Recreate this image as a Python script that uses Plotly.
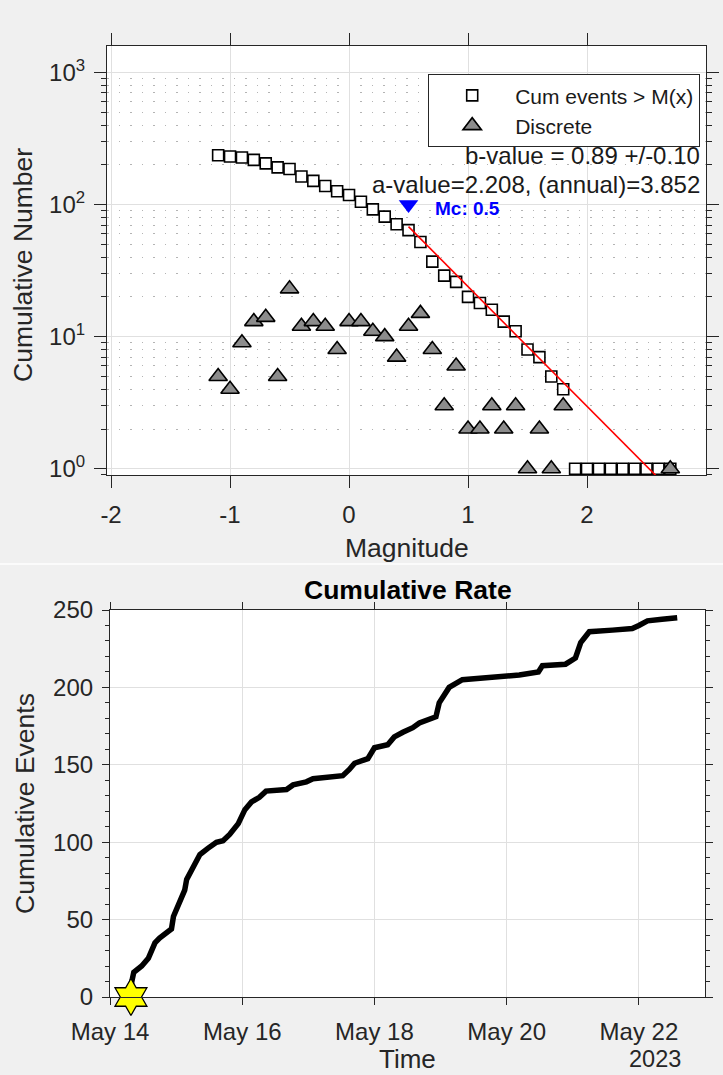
import plotly.graph_objects as go

# ---------------- data: Gutenberg-Richter (top) ----------------
mag_bins = [-1.1, -1.0, -0.9, -0.8, -0.7, -0.6, -0.5, -0.4, -0.3, -0.2, -0.1,
            0.0, 0.1, 0.2, 0.3, 0.4, 0.5, 0.6, 0.7, 0.8, 0.9, 1.0, 1.1, 1.2,
            1.3, 1.4, 1.5, 1.6, 1.7, 1.8, 1.9, 2.0, 2.1, 2.2, 2.3, 2.4, 2.5,
            2.6, 2.7]
cum_counts = [236, 231, 227, 218, 205, 191, 186, 163, 151, 138, 126,
              118, 105, 92, 81, 71, 64, 52, 37, 29, 26, 20, 18, 16,
              13, 11, 8, 7, 5, 4, 1, 1, 1, 1, 1, 1, 1,
              1, 1]
disc_mags = [-1.1, -1.0, -0.9, -0.8, -0.7, -0.6, -0.5, -0.4, -0.3, -0.2, -0.1,
             0.0, 0.1, 0.2, 0.3, 0.4, 0.5, 0.6, 0.7, 0.8, 0.9, 1.0, 1.1, 1.2,
             1.3, 1.4, 1.5, 1.6, 1.7, 1.8, 2.7]
disc_counts = [5, 4, 9, 13, 14, 5, 23, 12, 13, 12, 8,
               13, 13, 11, 10, 7, 12, 15, 8, 3, 6, 2, 2, 3,
               2, 3, 1, 2, 1, 3, 1]
fit_mags = [0.5, 2.7]
fit_counts = [68.0, 0.69]
mc_mag = [0.5]
mc_level = [100]

gr_xticks = [-2, -1, 0, 1, 2]
gr_xticklabels = ["-2", "-1", "0", "1", "2"]
gr_yticks = [1, 10, 100, 1000]
gr_yticklabels = ["10<sup>0</sup>", "10<sup>1</sup>", "10<sup>2</sup>", "10<sup>3</sup>"]
gr_yminor = [0.9, 2, 3, 4, 5, 6, 7, 8, 9, 20, 30, 40, 50, 60, 70, 80, 90,
             200, 300, 400, 500, 600, 700, 800, 900]

# ---------------- data: cumulative rate (bottom) ----------------
event_times = [
    "2023-05-14 07:12", "2023-05-14 07:26", "2023-05-14 07:55", "2023-05-14 08:38",
    "2023-05-14 11:31", "2023-05-14 13:55", "2023-05-14 16:19", "2023-05-14 18:00",
    "2023-05-14 22:19", "2023-05-14 23:02", "2023-05-15 01:26", "2023-05-15 03:07",
    "2023-05-15 03:50", "2023-05-15 05:02", "2023-05-15 06:43", "2023-05-15 08:38",
    "2023-05-15 11:31", "2023-05-15 14:38", "2023-05-15 17:02", "2023-05-15 19:26",
    "2023-05-15 22:34", "2023-05-16 00:58", "2023-05-16 03:22", "2023-05-16 06:14",
    "2023-05-16 08:38", "2023-05-16 16:05", "2023-05-16 18:29", "2023-05-16 23:17",
    "2023-05-17 01:41", "2023-05-17 12:29", "2023-05-17 14:53", "2023-05-17 16:48",
    "2023-05-17 21:36", "2023-05-18 00:00", "2023-05-18 04:48", "2023-05-18 07:12",
    "2023-05-18 10:19", "2023-05-18 13:55", "2023-05-18 16:19", "2023-05-18 21:07",
    "2023-05-18 22:19", "2023-05-18 23:31", "2023-05-19 01:26", "2023-05-19 03:07",
    "2023-05-19 07:55", "2023-05-19 13:55", "2023-05-19 23:46", "2023-05-20 04:34",
    "2023-05-20 11:31", "2023-05-20 12:58", "2023-05-20 21:22", "2023-05-21 00:58",
    "2023-05-21 02:53", "2023-05-21 06:00", "2023-05-21 14:24", "2023-05-21 21:36",
    "2023-05-22 00:00", "2023-05-22 03:07", "2023-05-22 08:24", "2023-05-22 13:55",
]
cum_events = [
    0, 5, 10, 16,
    20, 25, 35, 38,
    44, 52, 63, 69,
    76, 80, 86, 92,
    96, 100, 101, 105,
    112, 121, 126, 129,
    133, 134, 137, 139,
    141, 143, 147, 151,
    154, 161, 163, 168,
    171, 174, 177, 180,
    181, 190, 195, 200,
    205, 206, 207, 208,
    210, 214, 215, 219,
    229, 236, 237, 238,
    240, 243, 244, 245,
]
mainshock_time = ["2023-05-14 07:36"]
mainshock_level = [0]

rate_xticks = ["2023-05-14", "2023-05-16", "2023-05-18", "2023-05-20", "2023-05-22"]
rate_xticklabels = ["May 14", "May 16", "May 18", "May 20", "May 22"]

# ---------------- layout helpers ----------------
W, H = 723, 1075
FONT = "Liberation Sans, Arial, Helvetica, sans-serif"
AX = "#262626"
GRID = "#e0e0e0"


def px(x):
    return x / W


def py(y):
    return 1 - y / H


fig = go.Figure()

fig.add_trace(go.Scatter(
    x=mag_bins, y=cum_counts, mode="markers", name="Cum events > M(x)",
    marker=dict(symbol="square", size=11, color="white",
                line=dict(color="black", width=1.6)),
    xaxis="x", yaxis="y"))
fig.add_trace(go.Scatter(
    x=disc_mags, y=disc_counts, mode="markers", name="Discrete",
    marker=dict(symbol="triangle-up", size=16, color="#8c8c8c",
                line=dict(color="black", width=1.6)),
    xaxis="x", yaxis="y"))
fig.add_trace(go.Scatter(
    x=fit_mags, y=fit_counts, mode="lines", showlegend=False,
    line=dict(color="#ff0000", width=1.6), xaxis="x", yaxis="y"))
fig.add_trace(go.Scatter(
    x=mc_mag, y=mc_level, mode="markers", showlegend=False,
    marker=dict(symbol="triangle-down", size=17, color="#0000ff",
                line=dict(width=0)),
    xaxis="x", yaxis="y"))

fig.add_trace(go.Scatter(
    x=event_times, y=cum_events, mode="lines", showlegend=False,
    line=dict(color="black", width=5.5), xaxis="x2", yaxis="y2"))
fig.add_trace(go.Scatter(
    x=mainshock_time, y=mainshock_level, mode="markers", showlegend=False,
    cliponaxis=False,
    marker=dict(symbol="hexagram", size=28, color="#ffff00",
                line=dict(color="black", width=1.3)),
    xaxis="x2", yaxis="y2"))

axis_common = dict(showline=True, linecolor=AX, linewidth=1.2, ticks="outside",
                   tickcolor=AX, tickwidth=1.2, showgrid=True, gridcolor=GRID,
                   gridwidth=1, zeroline=False, automargin=False,
                   tickfont=dict(family=FONT, size=24, color=AX))

fig.update_layout(
    width=W, height=H, margin=dict(l=0, r=0, t=0, b=0, pad=0, autoexpand=False),
    paper_bgcolor="#f0f0f0", plot_bgcolor="white",
    font=dict(family=FONT, size=24, color=AX),
    showlegend=True,
    legend=dict(x=px(700), xanchor="right", y=py(74), yanchor="top",
                bgcolor="white", bordercolor="#262626", borderwidth=1.2,
                font=dict(family=FONT, size=21, color="#1a1a1a"),
                itemwidth=76, tracegroupgap=0),
    xaxis=dict(axis_common, domain=[px(107), px(706)], range=[-2.034, 3.0],
               tickmode="array", tickvals=gr_xticks, ticktext=gr_xticklabels,
               ticklen=12, mirror="ticks", anchor="y", ticklabelstandoff=6),
    yaxis=dict(axis_common, type="log", domain=[py(475), py(46)],
               range=[-0.047, 3.2], tickmode="array", tickvals=gr_yticks,
               ticktext=gr_yticklabels, ticklen=12, mirror="allticks",
               anchor="x", ticklabelstandoff=4,
               minor=dict(tickmode="array", tickvals=gr_yminor, ticks="outside",
                          ticklen=5, tickcolor=AX, tickwidth=1,
                          showgrid=True, gridcolor="#b4b4b4", gridwidth=1,
                          griddash="1.5px,10px")),
    xaxis2=dict(axis_common, type="date", domain=[px(110), px(705)],
                range=["2023-05-14 00:00", "2023-05-23 00:00"],
                tickmode="array", tickvals=rate_xticks, ticktext=rate_xticklabels,
                ticklen=7, mirror="ticks", anchor="y2", ticklabelstandoff=6),
    yaxis2=dict(axis_common, domain=[py(997), py(610)], range=[0, 250],
                tickmode="linear", tick0=0, dtick=50, ticklen=7,
                mirror="allticks", anchor="x2", ticklabelstandoff=4,
                minor=dict(tickmode="linear", tick0=0, dtick=10, ticks="outside",
                           ticklen=4, tickcolor=AX, tickwidth=1, showgrid=False)),
)

annotations = [
    dict(text="b-value = 0.89 +/-0.10", x=px(702), y=py(155), xanchor="right",
         yanchor="middle", font=dict(family=FONT, size=24, color="#1a1a1a")),
    dict(text="a-value=2.208, (annual)=3.852", x=px(702), y=py(184),
         xanchor="right", yanchor="middle",
         font=dict(family=FONT, size=24, color="#1a1a1a")),
    dict(text="<b>Mc: 0.5</b>", x=px(433), y=py(208), xanchor="left",
         yanchor="middle", font=dict(family=FONT, size=19, color="#0000ff")),
    dict(text="Magnitude", x=px(406.5), y=py(548), xanchor="center",
         yanchor="middle", font=dict(family=FONT, size=26.5, color=AX)),
    dict(text="Cumulative Number", x=px(23), y=py(265), xanchor="center",
         yanchor="middle", textangle=-90,
         font=dict(family=FONT, size=26.5, color=AX)),
    dict(text="<b>Cumulative Rate</b>", x=px(408), y=py(590), xanchor="center",
         yanchor="middle", font=dict(family=FONT, size=26.5, color="#000000")),
    dict(text="Cumulative Events", x=px(25), y=py(804), xanchor="center",
         yanchor="middle", textangle=-90,
         font=dict(family=FONT, size=26.5, color=AX)),
    dict(text="Time", x=px(407.5), y=py(1059), xanchor="center",
         yanchor="middle", font=dict(family=FONT, size=26, color=AX)),
    dict(text="2023", x=px(683), y=py(1059), xanchor="right",
         yanchor="middle", font=dict(family=FONT, size=23.5, color=AX)),
]
for a in annotations:
    a.update(xref="paper", yref="paper", showarrow=False)
fig.update_layout(annotations=annotations)

fig.add_shape(type="line", xref="paper", yref="paper", x0=0, x1=1,
              y0=py(564), y1=py(564), line=dict(color="#fbfbfb", width=2))

fig.write_html("out.html")
